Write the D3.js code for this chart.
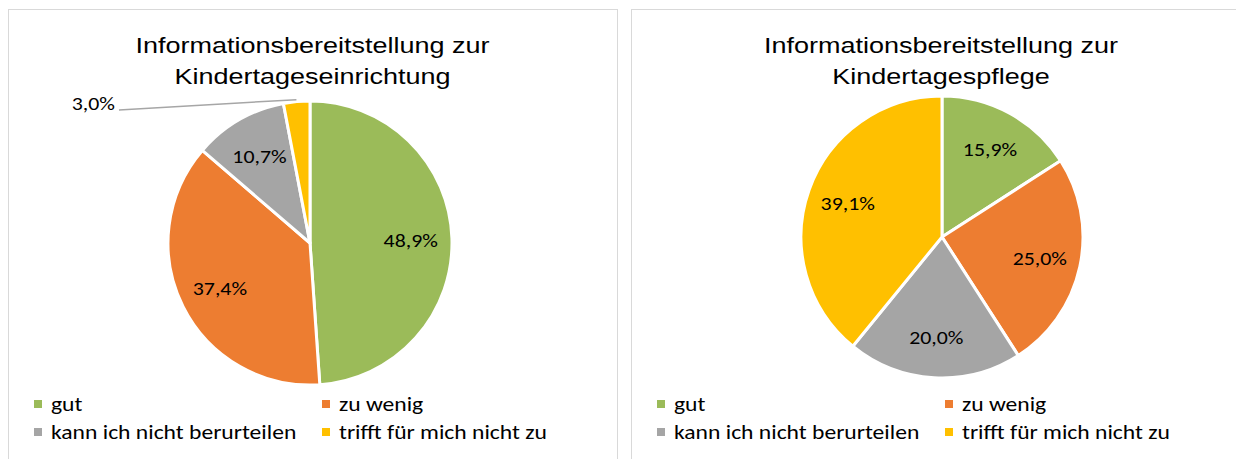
<!DOCTYPE html>
<html><head><meta charset="utf-8">
<script src="https://cdn.jsdelivr.net/npm/d3@7"></script>
<style>body{margin:0;background:#fff}svg{display:block}</style>
</head><body>
<svg id="c" width="1236" height="459"></svg>
<script>
const categories = ["gut", "zu wenig", "kann ich nicht berurteilen", "trifft für mich nicht zu"];
const colors = ["#9BBB59", "#ED7D31", "#A5A5A5", "#FFC000"];
const valuesEinrichtung = [48.9, 37.4, 10.7, 3.0];
const valuesPflege = [15.9, 25.0, 20.0, 39.1];
const titleEinrichtung = ["Informationsbereitstellung zur", "Kindertageseinrichtung"];
const titlePflege = ["Informationsbereitstellung zur", "Kindertagespflege"];

const svg = d3.select("#c");
const fmt = v => d3.format(".1f")(v).replace(".", ",") + "%";
const bodyFont = "Carlito, Lato, sans-serif";

function stext(parent, x, y, sx, txt, size, anchor, family) {
  return parent.append("text").attr("transform", `translate(${x},${y}) scale(${sx},1)`)
    .attr("text-anchor", anchor).attr("font-family", family).attr("font-size", size)
    .attr("fill", "#000").text(txt);
}

function panel(x0, w, title, values, cx, cy, r, outsideIdx) {
  const g = svg.append("g");
  g.append("rect").attr("x", x0 + 0.5).attr("y", 9.5).attr("width", w).attr("height", 470)
    .attr("fill", "#fff").attr("stroke", "#D9D9D9").attr("stroke-width", 1);
  const tcx = x0 + w / 2;
  title.forEach((t, i) => stext(g, tcx, 53 + i * 31, 1.2, t, 22.5, "middle", "Liberation Sans, Arial, sans-serif"));
  const pie = d3.pie().sort(null).value(d => d)(values);
  const arc = d3.arc().innerRadius(0).outerRadius(r);
  const lab = d3.arc().innerRadius(r * 0.71).outerRadius(r * 0.71);
  const pg = g.append("g").attr("transform", `translate(${cx},${cy})`);
  pg.selectAll("path").data(pie).join("path").attr("d", arc)
    .attr("fill", (d, i) => colors[i]).attr("stroke", "#fff").attr("stroke-width", 3).attr("stroke-linejoin", "round");
  pie.forEach((d, i) => {
    if (i === outsideIdx) {
      const a = (d.startAngle + d.endAngle) / 2;
      const px = cx + Math.sin(a) * (r + 2), py = cy - Math.cos(a) * (r + 2);
      g.append("line").attr("x1", x0 + 111).attr("y1", 110).attr("x2", px).attr("y2", py)
        .attr("stroke", "#A6A6A6").attr("stroke-width", 1.5);
      stext(g, x0 + 107, 110, 1.15, fmt(values[i]), 19, "end", bodyFont);
    } else {
      const [lx, ly] = lab.centroid(d);
      stext(pg, lx, ly + 7, 1.15, fmt(values[i]), 19, "middle", bodyFont);
    }
  });
  const lx = [x0 + 26, x0 + 314];
  categories.forEach((c, i) => {
    const x = lx[i % 2], y = 404 + Math.floor(i / 2) * 28;
    g.append("rect").attr("x", x).attr("y", y - 4).attr("width", 8).attr("height", 8).attr("fill", colors[i]);
    stext(g, x + 17, y + 7, 1.18, c, 20, "start", bodyFont);
  });
}
panel(8, 609, titleEinrichtung, valuesEinrichtung, 310, 243, 142, 3);
panel(631, 620, titlePflege, valuesPflege, 942, 237, 141, -1);
</script>
</body></html>
